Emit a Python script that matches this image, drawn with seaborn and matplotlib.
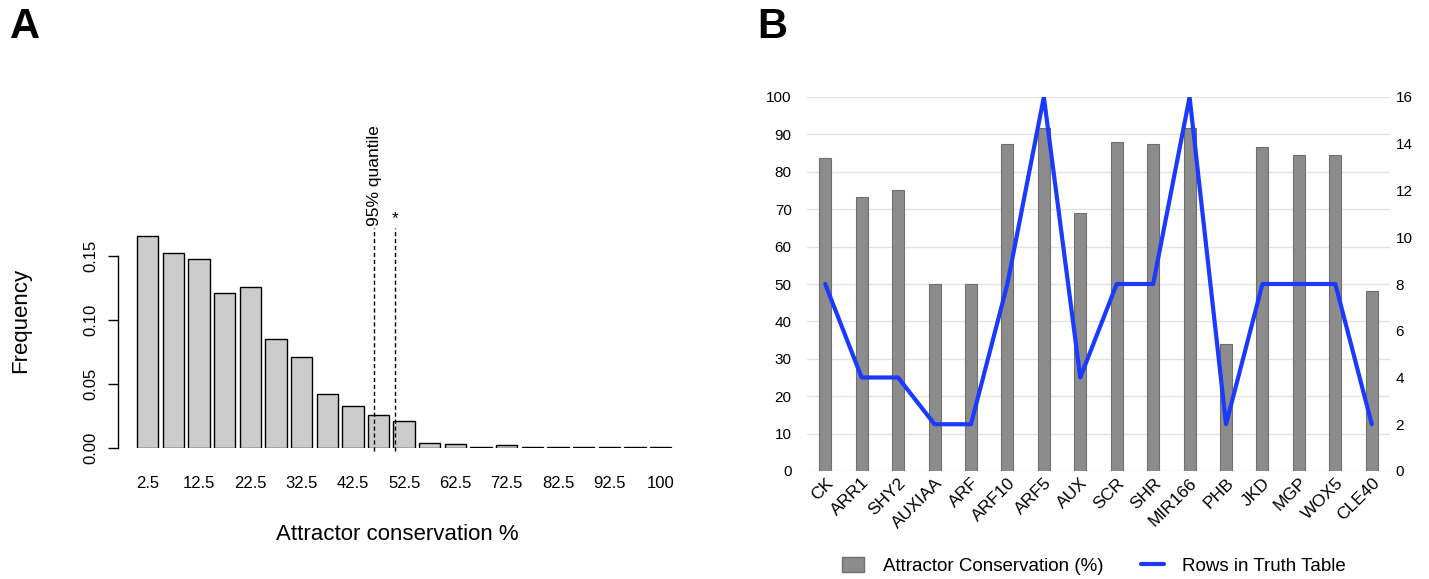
import matplotlib
matplotlib.use("Agg")
import matplotlib.pyplot as plt
import seaborn as sns
import pandas as pd
from matplotlib.patches import Patch
from matplotlib.lines import Line2D

sns.set_theme(style="white")
plt.rcParams['font.family'] = ['Liberation Sans', 'DejaVu Sans']
for k in ["text.color", "axes.labelcolor", "xtick.color", "ytick.color"]:
    plt.rcParams[k] = "black"

# ---------------- Panel A data ----------------
bins_a = ["2.5", "7.5", "12.5", "17.5", "22.5", "27.5", "32.5", "37.5", "42.5", "47.5",
          "52.5", "57.5", "62.5", "67.5", "72.5", "77.5", "82.5", "87.5", "92.5", "97.5", "100"]
freq_a = [0.166, 0.152, 0.148, 0.121, 0.126, 0.085, 0.071, 0.042, 0.033, 0.026,
          0.021, 0.004, 0.003, 0.0005, 0.002, 0.0005, 0.0005, 0.0005, 0.0005, 0.0005, 0.0005]
tick_labels_a = ["2.5", "", "12.5", "", "22.5", "", "32.5", "", "42.5", "",
                 "52.5", "", "62.5", "", "72.5", "", "82.5", "", "92.5", "", "100"]
yticks_a = [0.00, 0.05, 0.10, 0.15]
ytick_labels_a = ["0.00", "0.05", "0.10", "0.15"]
quantile_pos = 8.83   # position on bar axis of the 95% quantile line
star_pos = 9.66       # position of observed value line

# ---------------- Panel B data ----------------
genes = ["CK", "ARR1", "SHY2", "AUXIAA", "ARF", "ARF10", "ARF5", "AUX", "SCR", "SHR",
         "MIR166", "PHB", "JKD", "MGP", "WOX5", "CLE40"]
conservation = [83.6, 73.2, 75.1, 50, 50, 87.5, 91.7, 69, 88.1, 87.5,
                91.7, 34, 86.5, 84.6, 84.6, 48]
rows_truth = [8, 4, 4, 2, 2, 8, 16, 4, 8, 8, 16, 2, 8, 8, 8, 2]

W, H = 1429, 579
fig = plt.figure(figsize=(W / 100, H / 100), dpi=100)

# ---------------- Panel A ----------------
axA = fig.add_axes([118 / W, (H - 448) / H, 558 / W, 256 / H])
dfA = pd.DataFrame({"bin": bins_a, "freq": freq_a})
sns.barplot(data=dfA, x="bin", y="freq", order=bins_a, color="#cccccc",
            edgecolor="black", linewidth=1.0, width=0.833, saturation=1, ax=axA)
axA.set_xlim(-1.157, 20.6)
axA.set_ylim(0, 0.2)
for s in ["top", "right", "bottom"]:
    axA.spines[s].set_visible(False)
axA.spines["left"].set_bounds(0, 0.15)
axA.spines["left"].set_color("black")
axA.spines["left"].set_linewidth(1.0)
axA.set_yticks(yticks_a)
axA.set_yticklabels(ytick_labels_a, rotation=90, va="center", fontsize=12)
axA.tick_params(axis="y", direction="out", length=7, width=1, color="black", pad=7, left=True)
axA.set_xticks(range(len(bins_a)))
axA.set_xticklabels(tick_labels_a, fontsize=12)
axA.tick_params(axis="x", length=0, pad=20)
axA.set_xlabel("Attractor conservation %", fontsize=16, labelpad=24)
axA.set_ylabel("Frequency", fontsize=16, labelpad=38)
for p in [quantile_pos, star_pos]:
    axA.plot([p, p], [-0.002, 0.172], ls=(0, (3, 2)), color="black", lw=1, clip_on=False)
axA.text(quantile_pos, 0.1735, "95% quantile", rotation=90, ha="center", va="bottom", fontsize=12.5)
axA.text(star_pos, 0.1735, "*", ha="center", va="bottom", fontsize=12.5)

# ---------------- Panel B ----------------
axB = fig.add_axes([807 / W, (H - 471) / H, 583 / W, 374 / H])
dfB = pd.DataFrame({"gene": genes, "cons": conservation, "rows": rows_truth})
sns.barplot(data=dfB, x="gene", y="cons", order=genes, color="#8c8c8c",
            edgecolor="#6f6f6f", linewidth=0.8, width=0.33, saturation=1, ax=axB, zorder=2)
axB.set_xlim(-0.5, 15.5)
axB.set_ylim(0, 100)
axB.set_yticks(range(0, 101, 10))
axB.yaxis.grid(True, color="#e3e3e3", lw=1)
axB.set_axisbelow(True)
for s in axB.spines.values():
    s.set_visible(False)
axB.tick_params(axis="both", length=0, labelsize=11)
axB.tick_params(axis="y", pad=11)
axB.set_xticks(range(len(genes)))
axB.set_xticklabels(genes, rotation=45, ha="right", rotation_mode="anchor", fontsize=12.5)
axB.tick_params(axis="x", pad=3)
axB.set_xlabel("")
axB.set_ylabel("")

axB2 = axB.twinx()
sns.lineplot(data=dfB, x="gene", y="rows", color="#1a3aff", lw=3, ax=axB2, sort=False)
axB2.set_ylim(0, 16)
axB2.set_yticks(range(0, 17, 2))
for s in axB2.spines.values():
    s.set_visible(False)
axB2.tick_params(axis="y", length=0, labelsize=11, pad=4)
axB2.set_ylabel("")
axB2.set_xlim(-0.5, 15.5)

handles = [Patch(facecolor="#8c8c8c", edgecolor="#6f6f6f", label="Attractor Conservation (%)"),
           Line2D([0], [0], color="#1a3aff", lw=3, label="Rows in Truth Table")]
fig.legend(handles=handles, loc="center", bbox_to_anchor=(1094 / W, 1 - 566 / H), ncol=2,
           frameon=False, fontsize=13.5, handlelength=1.2, handleheight=0.8,
           handletextpad=1.0, columnspacing=2.0)

fig.text(10 / W, 1 - 27 / H, "A", fontsize=30, fontweight="bold", va="center", ha="left")
fig.text(757 / W, 1 - 27 / H, "B", fontsize=30, fontweight="bold", va="center", ha="left")

fig.savefig("out.png", dpi=100)
